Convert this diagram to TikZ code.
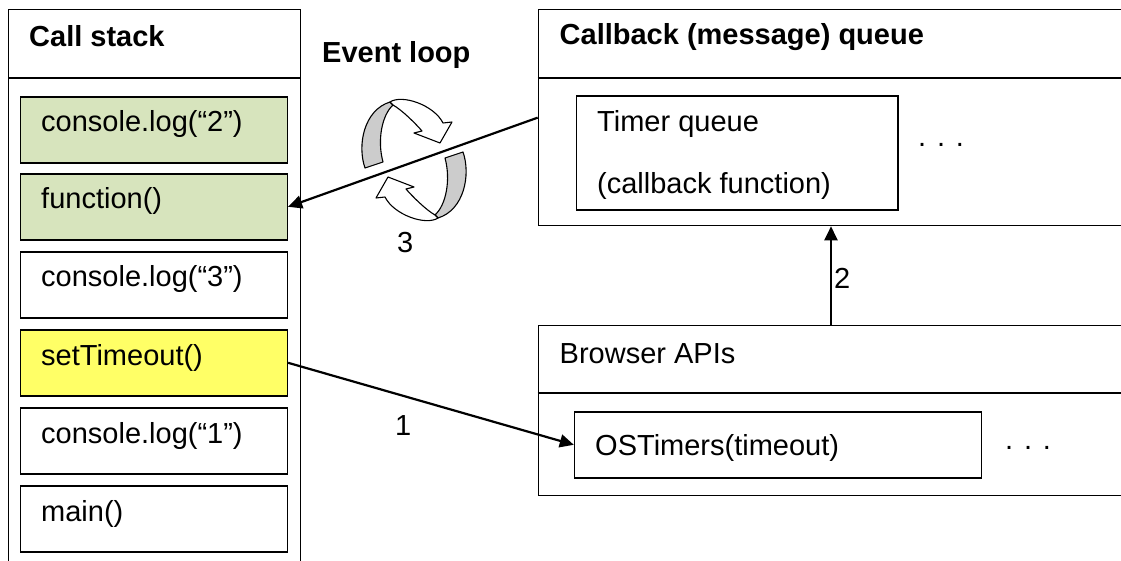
\documentclass[tikz,border=0pt]{standalone}
\usepackage{fontspec}
\setmainfont{Liberation Sans}
\usetikzlibrary{arrows.meta,calc}
\definecolor{stackgreen}{HTML}{D7E4BD}
\definecolor{stackyellow}{HTML}{FFFF66}
\definecolor{loopgray}{HTML}{CCCCCC}
\begin{document}
\begin{tikzpicture}[x=1pt,y=-1pt,
  txt/.style={anchor=base west, inner sep=0pt, font=\fontsize{29}{34}\selectfont},
  btxt/.style={anchor=base west, inner sep=0pt, font=\fontsize{29}{34}\selectfont\bfseries},
  frame/.style={draw, line width=1.3pt, anchor=north west, inner sep=0pt},
  itembox/.style={draw, line width=1.6pt, anchor=north west, inner sep=0pt},
  stackbox/.style={itembox, minimum width=267pt, minimum height=66pt},
  conn/.style={line width=2.2pt, -{Triangle[length=14pt,width=13pt]}},
  loopband/.style={draw, line width=1.1pt, line join=round}]
\clip (0,0) rectangle (1121,561);
\fill[white] (0,0) rectangle (1121,561);

% Call stack frame
\node[frame, minimum width=292pt, minimum height=620pt] (cs) at (8,9) {};
\draw[line width=1.3pt] (cs.west |- 0,78) -- (cs.east |- 0,78);
\node[btxt] (cstitle) at (29,47) {Call stack};

% stack items
\node[stackbox, fill=stackgreen] (c2) at (19.5,96) {};
\node[txt] (c2t) at (41,132) {console.log(“2”)};
\node[stackbox, fill=stackgreen] (fn) at (19.5,173) {};
\node[txt] (fnt) at (41,209) {function()};
\node[stackbox] (c3) at (19.5,251) {};
\node[txt] (c3t) at (41,287) {console.log(“3”)};
\node[stackbox, fill=stackyellow] (st) at (19.5,329) {};
\node[txt] (stt) at (41,365) {setTimeout()};
\node[stackbox] (c1) at (19.5,407) {};
\node[txt] (c1t) at (41,443) {console.log(“1”)};
\node[stackbox] (mn) at (19.5,485) {};
\node[txt] (mnt) at (41,521) {main()};

% Event loop
\node[btxt] (el) at (322,63) {Event loop};

% Callback queue
\node[frame, minimum width=640pt, minimum height=216pt] (cbq) at (537.7,9) {};
\draw[line width=1.3pt] (cbq.west |- 0,78) -- (cbq.east |- 0,78);
\node[btxt] (cbqt) at (559.5,45) {Callback (message) queue};
\node[itembox, minimum width=321.3pt, minimum height=114pt] (tq) at (575.7,95) {};
\node[txt] (tqt1) at (597,132) {Timer queue};
\begin{scope}
  \clip (tq.north west) rectangle ([yshift=11pt]tq.south east);
  \node[txt] (tqt2) at (597,194) {(callback function)};
\end{scope}
\node[txt] (tqdots) at (918,147) {. . .};

% Browser APIs
\node[frame, minimum width=640pt, minimum height=170pt] (ba) at (537.7,325) {};
\draw[line width=1.3pt] (ba.west |- 0,393) -- (ba.east |- 0,393);
\node[txt] (bat) at (559.5,363) {Browser APIs};
\node[itembox, minimum width=407pt, minimum height=66pt] (ost) at (573.8,411) {};
\node[txt] (ostt) at (595,455) {OSTimers(timeout)};
\node[txt] (badots) at (1005,449) {. . .};

% event loop circular arrows
\begin{scope}[shift={(414,160)}]
  \foreach \r in {0,180}{
    \begin{scope}[rotate=\r]
      \path[loopband, fill=loopgray] (-49,8) .. controls (-57,-15) and (-50,-50) .. (-24,-58)
        -- (-21,-55) .. controls (-32,-45) and (-37,-20) .. (-31,2) -- cycle;
      \path[loopband, fill=white] (-24,-58) .. controls (-12,-66) and (20,-55) .. (29,-37)
        -- (38,-38) -- (26,-17) -- (0,-27) -- (8,-29)
        .. controls (2,-36) and (-12,-50) .. (-21,-55) -- cycle;
    \end{scope}
  }
\end{scope}

% connectors
\coordinate (a2) at (831,300);
\draw[conn] (cbq.west) -- (fn.east);
\draw[conn] (st.east) -- (ost.west);
\draw[conn] (ba.north -| a2) -- (cbq.south -| a2);

\node[txt] (l1) at (395,435) {1};
\node[txt] (l2) at (834,288) {2};
\node[txt] (l3) at (397,253) {3};
\end{tikzpicture}
\end{document}
